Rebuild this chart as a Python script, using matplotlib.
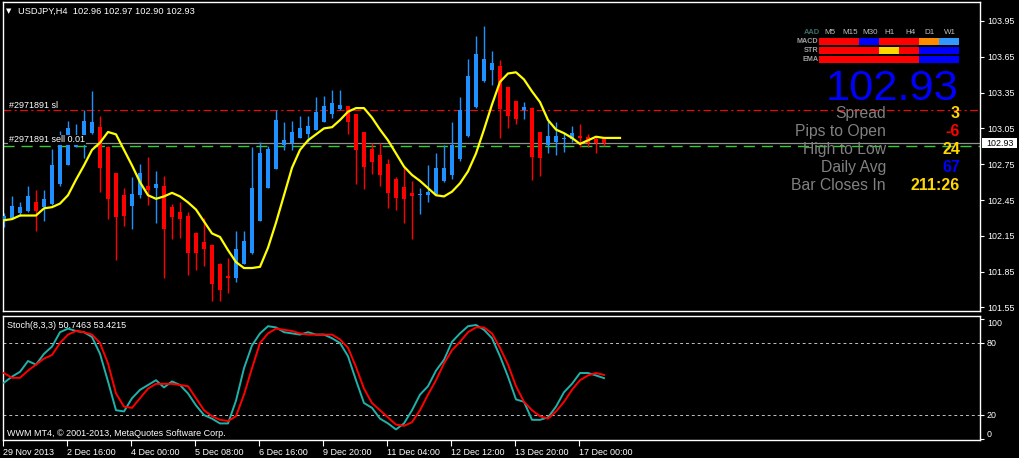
import matplotlib
matplotlib.use('Agg')
import matplotlib.pyplot as plt
from matplotlib.patches import Rectangle
from matplotlib.transforms import blended_transform_factory
import numpy as np

plt.rcParams['font.family'] = ['Liberation Sans', 'DejaVu Sans']

# ---------------- data ----------------
symbol_title = "USDJPY,H4  102.96 102.97 102.90 102.93"
stoch_title = "Stoch(8,3,3) 50.7463 53.4215"
footer_text = "WWM MT4, \u00a9 2001-2013, MetaQuotes Software Corp."

opens = [102.28, 102.30, 102.34, 102.36, 102.43, 102.39, 102.42, 102.58, 102.74, 102.89,
         102.92, 103.01, 103.06, 102.89, 102.68, 102.49, 102.40, 102.49, 102.57, 102.55,
         102.57, 102.39, 102.35, 102.32, 102.17, 102.10, 102.07, 101.91, 101.81, 101.80,
         101.91, 102.01, 102.27, 102.55, 102.71, 102.91, 102.93, 102.97, 103.00, 103.04,
         103.10, 103.17, 103.21, 103.24, 103.17, 103.02, 102.88, 102.83, 102.75, 102.63,
         102.56, 102.51, 102.49, 102.49, 102.50, 102.61, 102.66, 102.79, 102.99, 103.23,
         103.45, 103.54, 103.57, 103.40, 103.28, 103.20, 103.22, 103.02, 102.91, 102.94,
         102.96, 102.96, 102.99, 102.98, 102.96, 102.96]
highs = [102.34, 102.48, 102.43, 102.57, 102.53, 102.53, 102.88, 103.03, 103.11, 103.09,
         103.20, 103.36, 103.15, 102.90, 102.68, 102.55, 102.64, 102.75, 102.81, 102.69,
         102.65, 102.42, 102.43, 102.35, 102.18, 102.30, 102.08, 101.92, 101.96, 102.19,
         102.19, 102.89, 102.94, 102.90, 103.20, 103.10, 103.11, 103.15, 103.15, 103.31,
         103.32, 103.37, 103.37, 103.24, 103.17, 103.02, 102.93, 102.93, 102.79, 102.64,
         102.73, 102.61, 102.55, 102.74, 102.84, 102.91, 103.10, 103.31, 103.63, 103.82,
         103.91, 103.70, 103.62, 103.40, 103.28, 103.27, 103.23, 103.02, 103.12, 103.10,
         103.01, 103.07, 103.09, 103.00, 102.99, 102.97]
lows = [102.22, 102.29, 102.32, 102.35, 102.19, 102.27, 102.41, 102.57, 102.74, 102.89,
        102.80, 103.00, 102.52, 102.29, 101.95, 102.23, 102.21, 102.47, 102.41, 102.26,
        101.80, 102.12, 102.13, 101.82, 101.86, 101.90, 101.60, 101.60, 101.67, 101.76,
        101.91, 102.00, 102.27, 102.55, 102.71, 102.87, 102.87, 102.97, 102.94, 103.04,
        103.10, 103.14, 103.20, 103.00, 102.58, 102.54, 102.67, 102.57, 102.38, 102.37,
        102.26, 102.12, 102.33, 102.43, 102.49, 102.60, 102.63, 102.78, 102.98, 103.22,
        103.44, 103.41, 102.97, 103.05, 103.09, 103.13, 102.62, 102.65, 102.84, 102.83,
        102.85, 102.94, 102.89, 102.89, 102.84, 102.90]
closes = [102.32, 102.40, 102.39, 102.48, 102.36, 102.46, 102.74, 102.92, 103.05, 102.95,
          103.11, 103.10, 102.72, 102.46, 102.31, 102.32, 102.50, 102.68, 102.53, 102.58,
          102.21, 102.31, 102.29, 102.01, 102.01, 102.04, 101.75, 101.70, 101.80, 102.04,
          102.11, 102.55, 102.84, 102.88, 103.12, 102.95, 103.02, 103.05, 103.07, 103.19,
          103.24, 103.26, 103.25, 103.10, 102.87, 102.73, 102.77, 102.66, 102.51, 102.47,
          102.46, 102.48, 102.50, 102.52, 102.72, 102.72, 102.91, 103.20, 103.49, 103.67,
          103.63, 103.60, 103.21, 103.15, 103.13, 103.23, 102.81, 102.80, 102.99, 102.99,
          102.97, 103.01, 102.97, 102.93, 102.93, 102.93]
ma_yellow = [102.28, 102.29, 102.32, 102.32, 102.32, 102.38, 102.39, 102.42, 102.49, 102.62,
             102.74, 102.87, 102.93, 103.02, 103.00, 102.87, 102.74, 102.60, 102.49, 102.46,
             102.48, 102.51, 102.48, 102.43, 102.37, 102.27, 102.17, 102.14, 102.03, 101.93,
             101.88, 101.88, 101.89, 102.05, 102.26, 102.49, 102.72, 102.87, 102.95, 103.00,
             103.05, 103.06, 103.12, 103.19, 103.22, 103.22, 103.14, 103.04, 102.95, 102.84,
             102.73, 102.66, 102.61, 102.55, 102.49, 102.48, 102.52, 102.59, 102.69, 102.84,
             103.04, 103.25, 103.44, 103.51, 103.52, 103.46, 103.36, 103.27, 103.12, 103.04,
             103.01, 102.97, 102.92, 102.95, 102.98, 102.97, 102.97, 102.97]
stoch_main = [47, 52, 56, 65, 62, 71, 77, 89, 92, 90,
              89, 85, 71, 48, 24, 23, 34, 41, 45, 49,
              43, 48, 45, 38, 28, 20, 17, 13, 13, 32,
              59, 78, 88, 94, 93, 89, 88, 87, 89, 87,
              87, 84, 80, 69, 49, 30, 26, 17, 13, 8,
              13, 24, 37, 44, 57, 66, 81, 88, 94, 95,
              91, 84, 69, 52, 33, 31, 16, 16, 18, 27,
              39, 46, 55, 55, 53, 50.75]
stoch_signal = [55, 51, 51, 57, 62, 67, 70, 80, 87, 90,
                89, 87, 80, 63, 38, 27, 26, 34, 42, 46,
                46, 46, 45, 44, 34, 24, 19, 16, 15, 19,
                37, 59, 80, 88, 92, 91, 90, 88, 87, 87,
                87, 87, 83, 76, 60, 42, 30, 24, 18, 12,
                11, 14, 24, 37, 49, 63, 74, 81, 89, 93,
                93, 88, 76, 62, 44, 31, 24, 19, 17, 23,
                31, 41, 49, 53, 55, 53.42]
date_labels = ["29 Nov 2013", "2 Dec 16:00", "4 Dec 00:00", "5 Dec 08:00", "6 Dec 16:00",
               "9 Dec 20:00", "11 Dec 04:00", "12 Dec 12:00", "13 Dec 20:00", "17 Dec 00:00"]
price_ticks = [103.95, 103.65, 103.35, 103.05, 102.75, 102.45, 102.15, 101.85, 101.55]
stoch_ticks = [0, 20, 80, 100]
stoch_levels = [20, 80]
sl_level = 103.20
open_level = 102.90
bid_level = 102.93
order_sl_label = "#2971891 sl"
order_open_label = "#2971891 sell 0.01"

tf_headers = ['M5', 'M15', 'M30', 'H1', 'H4', 'D1', 'W1']
row_names = ['MACD', 'STR', 'EMA']
RED, BLUE, ORANGE, LBLUE, GOLD = '#ff0000', '#0000ff', '#ff8c00', '#3399ff', '#ffd700'
macd_colors = [RED, RED, BLUE, RED, RED, ORANGE, LBLUE]
str_colors = [RED, RED, RED, GOLD, RED, BLUE, BLUE]
ema_colors = [RED, RED, RED, RED, RED, BLUE, BLUE]
big_price = "102.93"
stat_names = ['Spread', 'Pips to Open', 'High to Low', 'Daily Avg', 'Bar Closes In']
stat_values = ['3', '-6', '24', '67', '211:26']
stat_colors = [GOLD, RED, GOLD, BLUE, GOLD]

# ---------------- layout helpers ----------------
W, H = 1020, 458
def fx(x): return x / W
def fy(y): return 1 - y / H

fig = plt.figure(figsize=(W / 100, H / 100), dpi=100, facecolor='black')
ax = fig.add_axes([fx(3), fy(311), fx(980) - fx(3), fy(2) - fy(311)], facecolor='black')
ax2 = fig.add_axes([fx(3), fy(440), fx(980) - fx(3), fy(316) - fy(440)], facecolor='black')

for a in (ax, ax2):
    for s in a.spines.values():
        s.set_color('white')
        s.set_linewidth(1.0)
    a.set_xlim(-0.125, 122)

# ---------------- main price chart ----------------
o = np.array(opens); h = np.array(highs); l = np.array(lows); c = np.array(closes)
x = np.arange(len(o))
up = c >= o
cols = np.where(up, '#1e90ff', '#ff0000')
ax.vlines(x, l, h, colors=cols, lw=1.0, zorder=2)
bottoms = np.minimum(o, c)
heights = np.maximum(np.abs(c - o), 0.009)
ax.bar(x, heights, bottom=bottoms, width=0.62, color=cols, edgecolor='none', zorder=3)
ax.plot(np.arange(len(ma_yellow)), ma_yellow, color='#ffff00', lw=1.6, zorder=4)

ax.axhline(sl_level, color='#ff0000', lw=0.8, dashes=(7, 3, 2, 3), zorder=1)
ax.axhline(bid_level, color='#909090', lw=0.9, zorder=1)
ax.axhline(open_level, color='#32cd32', lw=1.0, dashes=(8, 5), zorder=1)

ax.set_ylim(101.52, 104.109)
ax.yaxis.tick_right()
ax.set_yticks(price_ticks)
ax.set_yticklabels(['%.2f' % v for v in price_ticks])
ax.tick_params(axis='y', colors='white', labelsize=6.4, length=3, width=0.8, pad=2)
ax.tick_params(axis='x', bottom=False, labelbottom=False)

# ---------------- stochastic ----------------
ax2.plot(x, stoch_main, color='#20b2aa', lw=1.4, zorder=3)
ax2.plot(x, stoch_signal, color='#ff0000', lw=1.4, zorder=4)
for lv in stoch_levels:
    ax2.axhline(lv, color='#c0c0c0', lw=0.7, dashes=(3, 3), zorder=1)
ax2.set_ylim(-0.8, 102.5)
ax2.yaxis.tick_right()
ax2.set_yticks(stoch_ticks)
ax2.set_yticklabels([])
ax2.tick_params(axis='y', colors='white', length=3, width=0.8)
btr = blended_transform_factory(ax2.transAxes, ax2.transData)
for v in stoch_ticks:
    va = 'top' if v == 100 else ('bottom' if v == 0 else 'center')
    ax2.text(1.0 + 7 / 977, v, str(v), transform=btr, color='white', fontsize=6.4,
             ha='left', va=va, clip_on=False)

tick_pos = [8 * k - 0.125 for k in range(len(date_labels))]
ax2.set_xticks(tick_pos)
ax2.set_xticklabels(date_labels, ha='left')
ax2.tick_params(axis='x', colors='white', labelsize=6.5, length=4, width=0.8, pad=1.5)

# ---------------- overlay texts ----------------
fig.text(fx(6), fy(11), "\u25bc", color='white', fontsize=5, va='center', ha='left',
         family=['DejaVu Sans'])
fig.text(fx(18), fy(11), symbol_title, color='white', fontsize=6.7, va='center', ha='left')
fig.text(fx(9), fy(106), order_sl_label, color='white', fontsize=6.5, va='center', ha='left')
fig.text(fx(9), fy(140), order_open_label, color='white', fontsize=6.5, va='center', ha='left',
         bbox=dict(facecolor='black', edgecolor='none', pad=0.4), zorder=5)
fig.text(fx(7), fy(326), stoch_title, color='white', fontsize=6.5, va='center', ha='left')
fig.text(fx(7), fy(433), footer_text, color='white', fontsize=6.5, va='center', ha='left')

# info table
fig.text(fx(812), fy(32), 'AAD', color='#3d6b6b', fontsize=5.4, fontweight='bold',
         ha='center', va='center')
for k, name in enumerate(tf_headers):
    fig.text(fx(830 + 20 * k), fy(32), name, color='#c0c0c0', fontsize=5.8,
             ha='center', va='center')
row_tops = [38, 47, 56]
for r, (name, rc) in enumerate(zip(row_names, [macd_colors, str_colors, ema_colors])):
    fig.text(fx(818.5), fy(row_tops[r] + 3.5), name, color='#a0a0a0', fontsize=5.2,
             fontweight='bold', ha='right', va='center')
    for k, colr in enumerate(rc):
        fig.add_artist(Rectangle((fx(819 + 20 * k), fy(row_tops[r] + 7)), 20 / W, 7 / H,
                                 transform=fig.transFigure, facecolor=colr, edgecolor='none'))

fig.text(fx(959), fy(99.5), big_price, color='#0000ff', fontsize=31.2, ha='right',
         va='baseline')
baselines = [117.5, 135.7, 154, 172, 190]
for name, val, vc, yb in zip(stat_names, stat_values, stat_colors, baselines):
    fig.text(fx(886), fy(yb), name, color='#808080', fontsize=11.3, ha='right', va='baseline')
    fig.text(fx(960), fy(yb), val, color=vc, fontsize=11.5, fontweight='bold', ha='right',
             va='baseline')

# current price box on axis
fig.add_artist(Rectangle((fx(982), fy(148)), 35 / W, 10 / H, transform=fig.transFigure,
                         facecolor='white', edgecolor='none'))
fig.text(fx(986), fy(143), big_price, color='black', fontsize=6.4, ha='left', va='center')

fig.savefig('out.png', dpi=100, facecolor='black')
